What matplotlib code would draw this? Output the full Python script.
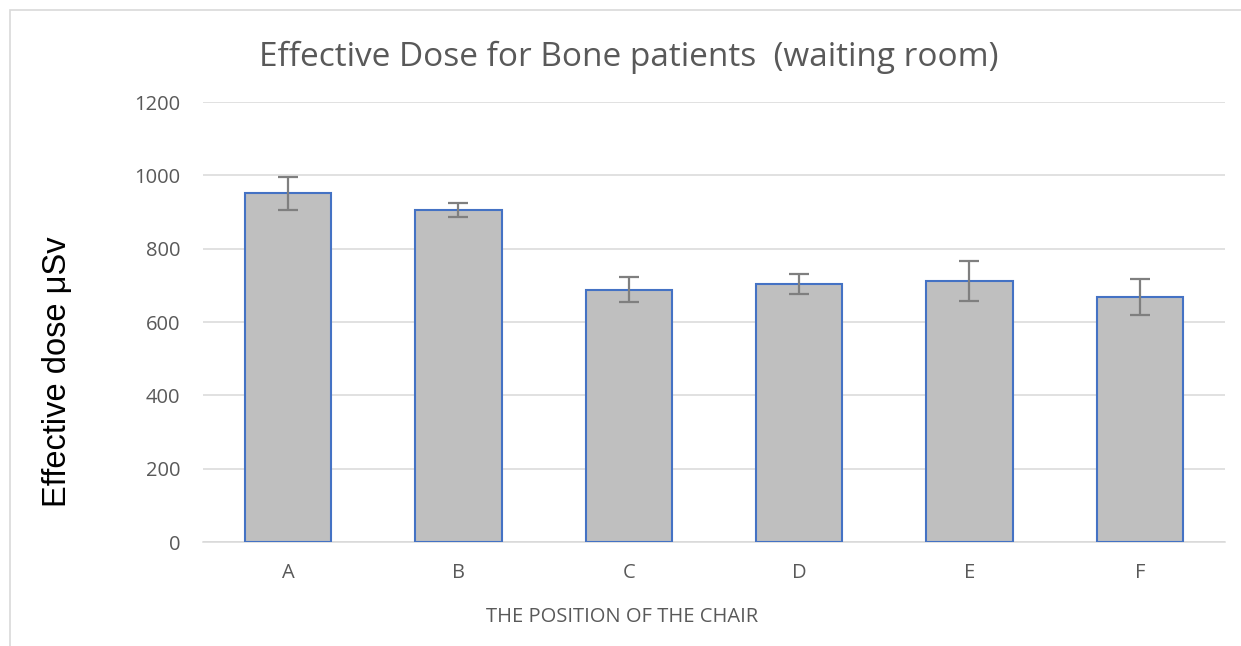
import numpy as np
import matplotlib
matplotlib.use("Agg")
import matplotlib.pyplot as plt
from matplotlib.patches import Rectangle

# data
positions = ["A", "B", "C", "D", "E", "F"]
dose = [951, 905, 688, 704, 711, 668]
dose_err = [45, 19, 34, 27, 55, 50]
yticks = [0, 200, 400, 600, 800, 1000, 1200]

plt.rcParams["font.family"] = ["Open Sans", "DejaVu Sans"]
GREY = "#595959"

fig = plt.figure(figsize=(12.41, 6.46), dpi=100)
ax = fig.add_axes([203 / 1241, 1 - 542 / 646, 1022 / 1241, 440 / 646])

x = np.arange(len(positions))
ax.bar(x, dose, width=0.505, color="#BFBFBF", edgecolor="#4472C4", linewidth=1.5, zorder=3)
ax.errorbar(x, dose, yerr=dose_err, fmt="none", ecolor="#7F7F7F",
            elinewidth=1.6, capsize=7, capthick=1.6, zorder=4)

ax.set_xlim(-0.5, len(positions) - 0.5)
ax.set_ylim(0, 1200)
ax.set_yticks(yticks)
ax.set_xticks(x)
ax.set_xticklabels(positions)
ax.grid(axis="y", color="#D9D9D9", lw=1.1, zorder=0)
for s in ["top", "right", "left"]:
    ax.spines[s].set_visible(False)
ax.spines["bottom"].set_color("#D9D9D9")
ax.spines["bottom"].set_linewidth(1.1)
ax.tick_params(axis="both", length=0, colors=GREY, labelsize=14.5)
ax.tick_params(axis="y", pad=16.5)
ax.tick_params(axis="x", pad=15)

fig.text(622 / 1241, 1 - 617 / 646, "THE POSITION OF THE CHAIR", ha="center", va="center",
         color=GREY, fontsize=14.5)
fig.text(57 / 1241, 1 - 372 / 646, "Effective dose μSv", rotation=90, ha="center", va="center",
         fontsize=23.5, family=["Liberation Sans Narrow", "Liberation Sans", "DejaVu Sans"],
         color="black")
fig.text(629 / 1241, 1 - 57 / 646, "Effective Dose for Bone patients  (waiting room)",
         ha="center", va="center", fontsize=24, color=GREY)

# chart frame
fig.patches.append(Rectangle((10 / 1241, -0.1), 1.2, 1 - 10 / 646 + 0.1, transform=fig.transFigure,
                             fill=False, edgecolor="#D9D9D9", lw=1.2))

fig.savefig("out.png", dpi=100)
